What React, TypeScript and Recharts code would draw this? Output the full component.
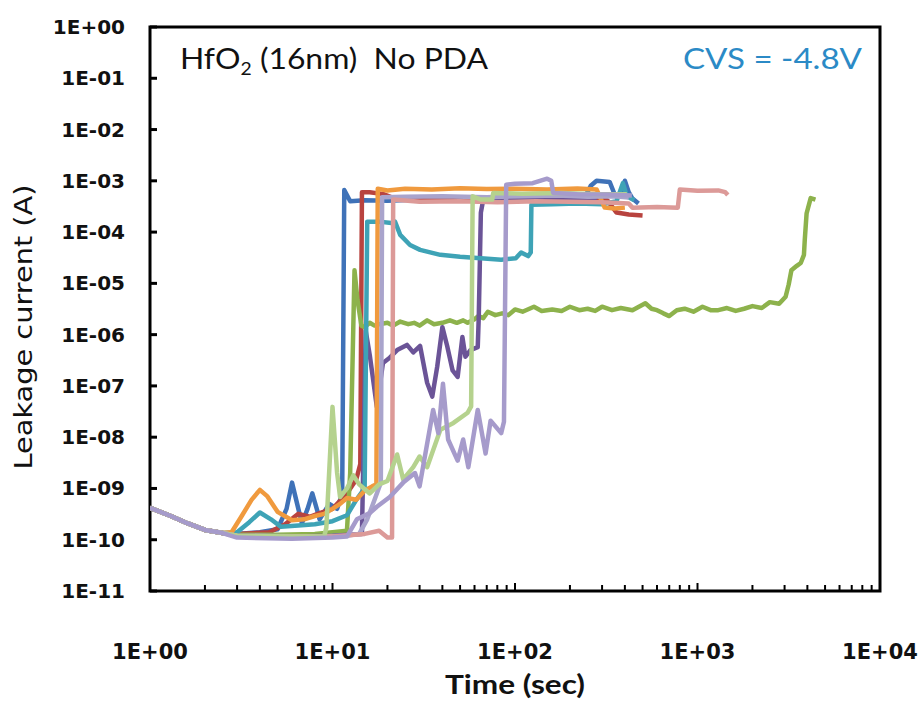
import { LineChart, Line, XAxis, YAxis, ReferenceArea } from "recharts";

type Pt = [number, number];

// axis ticks
const xMajor = [1, 10, 100, 1000, 10000];
const xMinorSteps = [2, 3, 4, 5, 6, 7, 8, 9];
const yTicks = [1e-11, 1e-10, 1e-9, 1e-8, 1e-7, 1e-6, 1e-5, 1e-4, 1e-3, 1e-2, 1e-1, 1];

// every device starts on the same charging curve
const rampDown: Pt[] = [[1, 4.2e-10], [1.3, 2.9e-10], [1.6, 2.1e-10], [2, 1.55e-10], [2.5, 1.35e-10]];

const blueRun: Pt[] = [
  [3, 1.3e-10], [4, 1.4e-10], [5, 1.6e-10], [5.6, 4e-10], [6, 1.3e-9], [6.5, 4e-10], [6.8, 2.1e-10],
  [7.3, 4e-10], [7.75, 8e-10], [8.2, 4e-10], [8.5, 2.5e-10], [9.6, 5e-10], [10.6, 4e-10], [11.3, 8e-10],
  [11.6, 6.6e-4], [12.5, 4e-4], [15, 4.2e-4], [20, 4.1e-4], [30, 4.3e-4], [50, 4.2e-4], [80, 4.4e-4],
  [120, 4.3e-4], [180, 4.5e-4], [240, 4.6e-4], [260, 8e-4], [280, 1e-3], [330, 9.5e-4], [355, 5e-4],
  [385, 5.5e-4], [400, 1e-3], [420, 6e-4], [440, 4.5e-4], [475, 3.6e-4],
];

const redRun: Pt[] = [
  [3, 1.3e-10], [4.5, 1.4e-10], [5.5, 2e-10], [6.5, 3.2e-10], [7.5, 2.8e-10], [8.5, 3.3e-10], [10, 4e-10],
  [12, 8e-10], [13.5, 1.5e-9], [14.2, 3e-9], [14.5, 6e-4], [16, 6e-4], [19, 5.5e-4], [22, 4.5e-4],
  [40, 4.4e-4], [80, 4.3e-4], [150, 4.5e-4], [250, 4.4e-4], [320, 4.2e-4], [360, 2.4e-4], [420, 2.2e-4],
  [500, 2.1e-4],
];

const greenRun: Pt[] = [
  [3, 1.25e-10], [5, 1.25e-10], [8, 1.3e-10], [10, 1.4e-10], [12, 1.5e-10], [12.5, 2e-9], [13.2, 1.8e-5],
  [13.7, 4.8e-6], [14.4, 1.5e-6], [15, 1.4e-6], [16, 1.7e-6], [17, 1.5e-6], [18, 1.6e-6], [20, 1.7e-6],
  [21.5, 1.5e-6], [23.5, 1.8e-6], [26, 1.6e-6], [28, 1.7e-6], [30, 1.5e-6], [33, 1.9e-6], [36, 1.6e-6],
  [40, 1.7e-6], [44, 1.9e-6], [48, 1.7e-6], [52, 1.9e-6], [55, 1.7e-6], [60, 2e-6], [63, 2.3e-6],
  [67, 2.1e-6], [71, 2.8e-6], [78, 2.4e-6], [85, 2.6e-6], [92, 2.4e-6], [100, 3.1e-6], [110, 2.8e-6],
  [127, 3.5e-6], [140, 2.9e-6], [160, 3.1e-6], [180, 2.9e-6], [200, 3.5e-6], [225, 3e-6], [250, 3.2e-6],
  [275, 2.9e-6], [300, 3.5e-6], [340, 3e-6], [380, 3.3e-6], [440, 3e-6], [518, 4.1e-6], [560, 3.2e-6],
  [600, 3e-6], [650, 2.6e-6], [700, 2.3e-6], [770, 3e-6], [850, 3.2e-6], [950, 2.8e-6], [1065, 3.5e-6],
  [1180, 3e-6], [1300, 3e-6], [1450, 3.3e-6], [1620, 2.9e-6], [1800, 3.2e-6], [2000, 3.6e-6],
  [2250, 3.3e-6], [2490, 4.3e-6], [2800, 4e-6], [3040, 5.5e-6], [3160, 9.5e-6], [3270, 1.8e-5],
  [3500, 2.2e-5], [3680, 2.5e-5], [3830, 3.6e-5], [3870, 7e-5], [3960, 2.3e-4], [4170, 4.6e-4],
  [4430, 4.3e-4],
];

const purpleRun: Pt[] = [
  [3, 1.2e-10], [6, 1.15e-10], [10, 1.2e-10], [14.5, 1.3e-10], [15.2, 1.2e-6], [16, 4e-7], [17.5, 3.9e-8],
  [18.9, 2.8e-7], [20.5, 3.5e-7], [22.6, 5e-7], [25.6, 6.3e-7], [27.7, 4.5e-7], [30.2, 6e-7], [33, 1.15e-7],
  [35.2, 6.2e-8], [37.5, 2.4e-7], [40, 1.4e-6], [42.5, 6e-7], [45.5, 2e-7], [48.5, 1.5e-7], [51.5, 9e-7],
  [53.5, 3.7e-7], [57, 5e-7], [62.5, 5.7e-7], [63.3, 2.2e-6], [65, 2.4e-4], [67, 4.3e-4], [90, 4.5e-4],
  [130, 4.4e-4], [200, 4.6e-4], [280, 4.5e-4],
];

const tealRun: Pt[] = [
  [3, 1.4e-10], [3.5, 2.2e-10], [4, 3.4e-10], [4.6, 2.5e-10], [5.2, 1.8e-10], [6.5, 1.9e-10], [8, 2e-10],
  [10, 2.3e-10], [12, 3e-10], [13.5, 6e-10], [15, 1e-9], [15.5, 1.6e-4], [18, 1.6e-4], [21, 1.5e-4],
  [22, 1.6e-4], [23.5, 8.8e-5], [26.6, 5.6e-5], [30.2, 4.5e-5], [39, 3.6e-5], [50, 3.3e-5], [65, 3.1e-5],
  [84, 2.9e-5], [101, 3.1e-5], [108, 4e-5], [118, 3.4e-5], [122, 4e-5], [123, 3.4e-4], [160, 3.5e-4],
  [220, 3.6e-4], [300, 3.5e-4], [360, 4e-4], [390, 9e-4], [410, 5e-4], [450, 4.2e-4],
];

const orangeRun: Pt[] = [
  [2.8, 1.4e-10], [3.2, 3e-10], [3.6, 6e-10], [4, 9.4e-10], [4.4, 7e-10], [5, 3.5e-10], [6, 2.4e-10],
  [7, 2.5e-10], [8, 2.9e-10], [9, 3.2e-10], [10, 4e-10], [11, 5e-10], [12, 6.5e-10], [13.5, 6e-10],
  [15, 9e-10], [16.5, 1.1e-9], [17.4, 1.2e-9], [17.7, 7e-4], [20, 6.5e-4], [25, 7e-4], [35, 6.8e-4],
  [50, 7.2e-4], [70, 6.9e-4], [100, 7e-4], [150, 6.8e-4], [220, 7.1e-4], [280, 6.8e-4], [310, 3e-4],
  [350, 2.9e-4], [400, 3e-4],
];

const lavenderRun: Pt[] = [
  [3, 1.2e-10], [8, 1.15e-10], [12, 1.2e-10], [14, 1.3e-10], [15.5, 2.5e-10], [17, 6e-10], [18.4, 1.3e-9],
  [18.7, 4.8e-4], [25, 4.9e-4], [40, 5e-4], [70, 4.8e-4], [110, 5e-4], [170, 5.2e-4], [250, 4.9e-4],
  [350, 5e-4], [420, 4.7e-4],
];

const pinkRun: Pt[] = [
  [3, 1.2e-10], [6, 1.15e-10], [10, 1.15e-10], [15, 1.3e-10], [18, 1.5e-10], [20, 1.1e-10], [21.2, 1.1e-10],
  [21.5, 4.3e-4], [30, 3.9e-4], [50, 4e-4], [80, 3.8e-4], [130, 4e-4], [200, 3.9e-4], [300, 3.8e-4],
  [420, 3.6e-4], [440, 3e-4], [600, 3.1e-4], [780, 3e-4], [800, 6.8e-4], [1000, 6.4e-4], [1300, 6.5e-4],
  [1420, 6e-4], [1466, 5.3e-4],
];

const lightGreenRun: Pt[] = [
  [3, 1.2e-10], [6, 1.15e-10], [9, 1.15e-10], [9.25, 1.7e-10], [10, 3.9e-8], [10.6, 2e-9], [11, 6.8e-10],
  [12, 1e-9], [13, 1.8e-9], [14, 1.2e-9], [16, 8e-10], [18, 1.2e-9], [20, 1.4e-9], [22.6, 4.6e-9],
  [24.4, 1.5e-9], [27.7, 2.6e-9], [30, 4.2e-9], [33, 2.6e-9], [39, 1.4e-8], [46, 1.9e-8], [55, 3e-8],
  [57.5, 4e-8], [58.6, 5e-4], [65, 4.3e-4], [75, 4.3e-4], [76, 5.8e-4], [110, 5.6e-4], [180, 5.8e-4],
  [280, 5.5e-4], [410, 5.5e-4],
];

const lilacRun: Pt[] = [
  [3, 1.1e-10], [6, 1.05e-10], [10, 1.1e-10], [12, 1.15e-10], [13.6, 2.5e-10], [16, 3.3e-10], [17.5, 4.4e-10],
  [20.6, 6.8e-10], [24.4, 1.3e-9], [28.3, 2e-9], [30, 1.1e-9], [35.6, 3.4e-8], [38, 1.2e-8], [40.3, 1.1e-7],
  [43, 9e-9], [48.5, 3.5e-9], [52, 9e-9], [55.5, 2.6e-9], [62.5, 3.4e-8], [69, 4.8e-9], [73.5, 2.1e-8],
  [84, 1.2e-8], [87, 2e-8], [89.5, 8.4e-4], [100, 8.8e-4], [125, 9e-4], [150, 1.1e-3], [158, 1e-3],
  [162, 5.8e-4], [220, 5.5e-4], [320, 5.4e-4], [437, 5.2e-4],
];

const series = [
  { id: "blue", color: "#3f72b8", pts: blueRun },
  { id: "red", color: "#b8433f", pts: redRun },
  { id: "green", color: "#8db24c", pts: greenRun },
  { id: "purple", color: "#6b5497", pts: purpleRun },
  { id: "teal", color: "#3ea3b6", pts: tealRun },
  { id: "orange", color: "#f09a3e", pts: orangeRun },
  { id: "lavender", color: "#a9a4cc", pts: lavenderRun },
  { id: "pink", color: "#dc9a98", pts: pinkRun },
  { id: "lightgreen", color: "#b5d28e", pts: lightGreenRun },
  { id: "lilac", color: "#a69bcb", pts: lilacRun },
].map((s) => ({ ...s, data: [...rampDown, ...s.pts].map(([t, v]) => ({ t, v })) }));

const xTicks = xMajor.slice(0, -1).flatMap((d) => [d, ...xMinorSteps.map((m) => m * d)]).concat(10000);

const fmtExp = (v: number) => {
  const e = Math.round(Math.log10(v));
  return `1E${e < 0 ? "-" : "+"}${String(Math.abs(e)).padStart(2, "0")}`;
};

const tickFont = "'DejaVu Sans', Verdana, sans-serif";

const XTick = ({ x, y, payload }: any) => {
  const major = xMajor.includes(payload.value);
  return (
    <g>
      <line x1={x} x2={x} y1={y} y2={y - (major ? 8 : 6)} stroke="#000" strokeWidth={2} />
      {major && (
        <text x={x} y={y + 68} textAnchor="middle" fontFamily={tickFont} fontWeight="bold" fontSize={21} fill="#111">
          {fmtExp(payload.value)}
        </text>
      )}
    </g>
  );
};

const YTick = ({ x, y, payload }: any) => (
  <g>
    <line x1={x} x2={x + 7} y1={y} y2={y} stroke="#000" strokeWidth={3} />
    <text x={x - 25} y={y + 7} textAnchor="end" fontFamily={tickFont} fontWeight="bold" fontSize={20} fill="#111">
      {fmtExp(payload.value)}
    </text>
  </g>
);

export default function App() {
  return (
    <div style={{ position: "absolute", left: 0, top: 0, width: 920, height: 702, background: "#fff" }}>
      <LineChart width={920} height={702} margin={{ top: 27, right: 40, bottom: 0, left: 0 }}>
        <XAxis
          dataKey="t"
          type="number"
          scale="log"
          domain={[1, 10000]}
          allowDataOverflow
          ticks={xTicks}
          interval={0}
          tick={<XTick />}
          tickLine={false}
          tickSize={0}
          tickMargin={0}
          axisLine={false}
          height={111}
        />
        <YAxis
          type="number"
          scale="log"
          domain={[1e-11, 1]}
          allowDataOverflow
          ticks={yTicks}
          interval={0}
          tick={<YTick />}
          tickLine={false}
          tickSize={0}
          tickMargin={0}
          axisLine={false}
          width={150}
        />
        {series.map((s) => (
          <Line
            key={s.id}
            data={s.data}
            dataKey="v"
            type="linear"
            stroke={s.color}
            strokeWidth={4.5}
            strokeLinejoin="round"
            dot={false}
            activeDot={false}
            isAnimationActive={false}
          />
        ))}
        <ReferenceArea x1={1} x2={10000} y1={1e-11} y2={1} fill="none" stroke="#000" strokeWidth={3} />
      </LineChart>
      <svg width={920} height={702} style={{ position: "absolute", left: 0, top: 0, pointerEvents: "none" }}>
        <text
          x={180}
          y={69}
          fontFamily="Lato, sans-serif"
          fontSize={28}
          fill="#111"
          textLength={308}
          lengthAdjust="spacingAndGlyphs"
          style={{ whiteSpace: "pre" }}
        >
          HfO<tspan fontSize={17} dy={6}>2</tspan>
          <tspan dy={-6}>{" (16nm)  No PDA"}</tspan>
        </text>
        <text x={683} y={69} fontFamily="Lato, sans-serif" fontSize={28} fill="#2b8ac6" textLength={179} lengthAdjust="spacingAndGlyphs">
          CVS = -4.8V
        </text>
        <text x={445} y={694} fontFamily="Lato, sans-serif" fontWeight="bold" fontSize={26} fill="#111" textLength={140} lengthAdjust="spacingAndGlyphs">
          Time (sec)
        </text>
        <text
          transform="translate(32, 327) rotate(-90)"
          textAnchor="middle"
          fontFamily={tickFont}
          fontSize={24}
          fill="#111"
          textLength={285}
          lengthAdjust="spacingAndGlyphs"
        >
          Leakage current (A)
        </text>
      </svg>
    </div>
  );
}
